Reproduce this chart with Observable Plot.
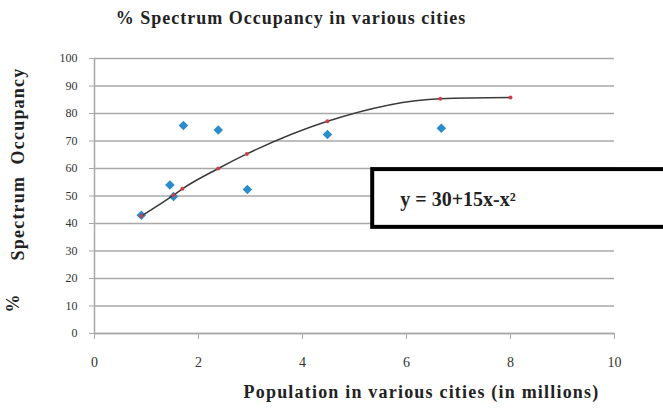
<!DOCTYPE html>
<html>
<head>
<meta charset="utf-8">
<script src="https://cdn.jsdelivr.net/npm/d3@7"></script>
<script src="https://cdn.jsdelivr.net/npm/@observablehq/plot@0.6"></script>
<style>
  html, body { margin: 0; padding: 0; background: #fff; width: 663px; height: 413px; overflow: hidden; }
  #title { height: 40px; box-sizing: border-box; padding-top: 7px; width: 582px; text-align: center; line-height: 22px;
           font-family: "Liberation Serif", serif; font-weight: bold; font-size: 18px; letter-spacing: 1px; color: #222; }
  svg { display: block; }
</style>
</head>
<body>
<div id="title">% Spectrum Occupancy in various cities</div>
<div id="chart"></div>
<script>
// Observed city data (population in millions, % spectrum occupancy)
const cityPopulation = [0.9, 1.45, 1.52, 1.71, 2.38, 2.94, 4.48, 6.67];
const cityOccupancy  = [43, 54, 49.8, 75.6, 74, 52.4, 72.4, 74.6];
// Trendline (fitted) points
const fitPopulation = [0.9, 1.52, 1.69, 2.38, 2.93, 4.48, 6.65, 8];
const fitOccupancy  = [42.7, 50.3, 52.6, 60, 65.3, 77.2, 85.4, 85.8];
// Axis ticks
const xTicks = [0, 2, 4, 6, 8, 10];
const yTicks = [0, 10, 20, 30, 40, 50, 60, 70, 80, 90, 100];
// Equation annotation
const eqLabel = ["y = 30+15x-x²"];
const eqBox = [{x1: 5.35, x2: 12, y1: 38.6, y2: 59.6}];
const eqPos = [{x: 5.88, y: 48.8}];

const obs = cityPopulation.map((x, i) => ({x, y: cityOccupancy[i]}));
const fit = fitPopulation.map((x, i) => ({x, y: fitOccupancy[i]}));

const serif = "'Liberation Serif', 'DejaVu Serif', serif";

const chart = Plot.plot({
  width: 663,
  height: 373,
  marginLeft: 94,
  marginRight: 49,
  marginTop: 18,
  marginBottom: 80,
  style: {fontFamily: serif, fontSize: "13px", color: "#333", background: "#fff"},
  x: {domain: [0, 10], ticks: xTicks, label: null},
  y: {domain: [0, 100], ticks: yTicks, label: null},
  marks: [
    Plot.gridY(yTicks, {stroke: "#a8a8a8", strokeOpacity: 1, strokeWidth: 1.5}),
    Plot.ruleX([0], {stroke: "#a8a8a8", strokeWidth: 1.5}),
    Plot.ruleY([0], {stroke: "#a8a8a8", strokeWidth: 1.5}),
    Plot.axisY({ticks: yTicks, tickSize: 5, tickPadding: 12, stroke: "#a8a8a8", fill: "#333", fontSize: 12}),
    Plot.axisX({ticks: xTicks, tickSize: 6, tickPadding: 18, stroke: "#a8a8a8", fill: "#333", fontSize: 14}),
    Plot.dot(obs, {x: "x", y: "y", symbol: "diamond2", r: 4.3, fill: "#2b8ccc", stroke: "none"}),
    Plot.line(fit, {x: "x", y: "y", curve: "monotone-x", stroke: "#3a3a3a", strokeWidth: 1.5}),
    Plot.dot(fit, {x: "x", y: "y", r: 2, fill: "#c8404a", stroke: "none"}),
    Plot.rect(eqBox, {x1: "x1", x2: "x2", y1: "y1", y2: "y2", fill: "#fff", stroke: "#000", strokeWidth: 4}),
    Plot.text(eqLabel, {x: eqPos[0].x, y: eqPos[0].y, text: d => d, textAnchor: "start", fontSize: 20, fontWeight: "bold", fill: "#222", fontFamily: serif}),
    Plot.text(["Population in various cities (in millions)"], {frameAnchor: "bottom", textAnchor: "middle", dy: 64, dx: 67, text: d => d, fontSize: 18, fontWeight: "bold", fill: "#222", style: {letterSpacing: "1px"}}),
    Plot.text(["Spectrum  Occupancy"], {frameAnchor: "left", textAnchor: "middle", rotate: -90, dx: -76, dy: -32, text: d => d, fontSize: 18, fontWeight: "bold", fill: "#222"}),
    Plot.text(["%"], {frameAnchor: "bottom-left", textAnchor: "middle", rotate: -90, dx: -76, dy: -30, text: d => d, fontSize: 18, fontWeight: "bold", fill: "#222"})
  ]
});
// letter spacing for axis titles (styling only)
chart.querySelectorAll("text").forEach(t => {
  const s = t.textContent;
  if (s.startsWith("Population") || s.startsWith("Spectrum")) t.setAttribute("letter-spacing", "1.2");
});
document.getElementById("chart").appendChild(chart);
</script>
</body>
</html>
